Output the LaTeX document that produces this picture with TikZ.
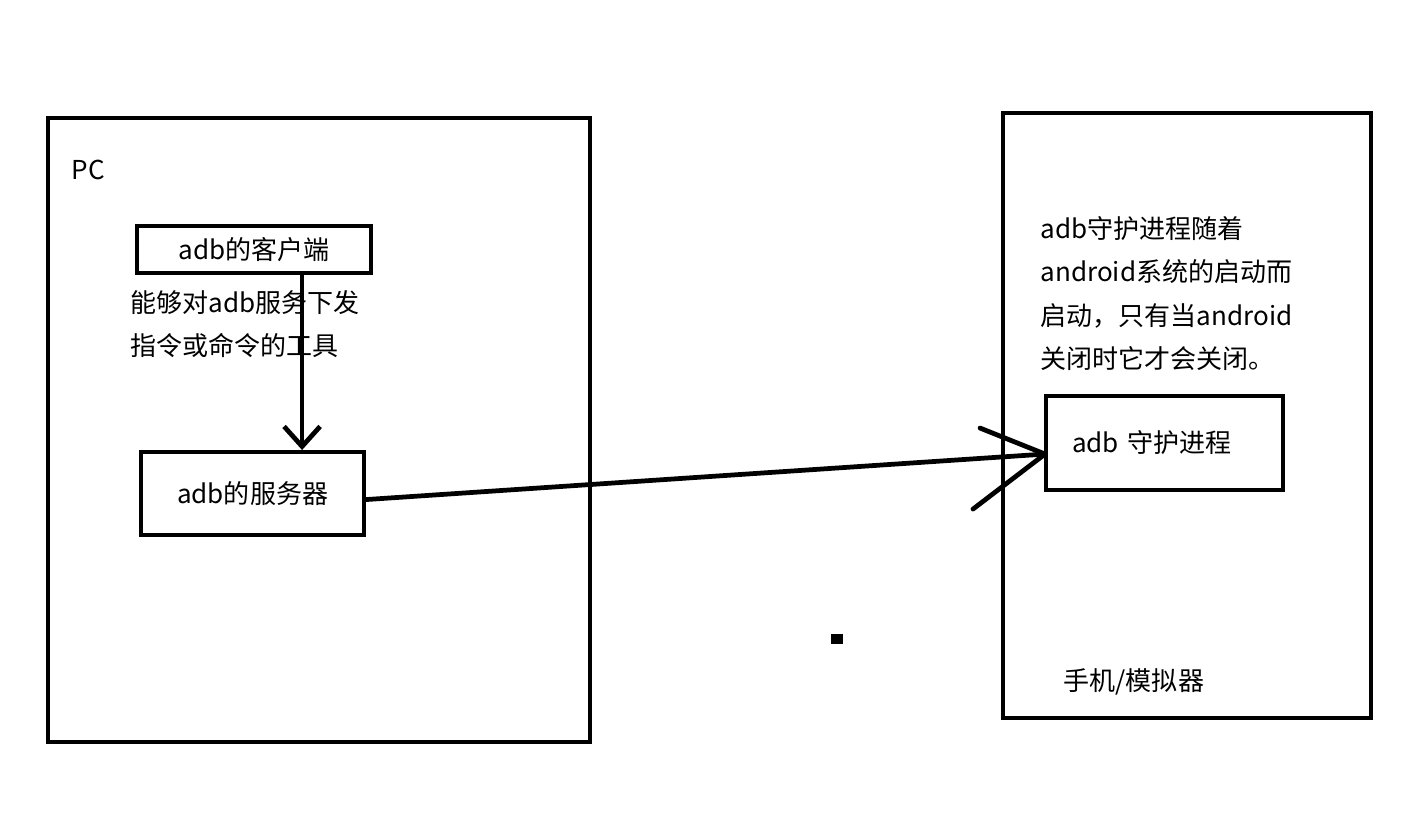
\documentclass[tikz,border=0pt]{standalone}
\usepackage{fontspec}
\setmainfont{Noto Sans CJK SC}
\usetikzlibrary{arrows.meta, positioning, calc}

\begin{document}
\begin{tikzpicture}[x=0.01cm, y=-0.01cm,
  box/.style={draw, line width=1.15pt, inner sep=0, font=\fontsize{7.4}{12.2}\selectfont},
  lbl/.style={font=\fontsize{7.4}{12.3}\selectfont, inner sep=0, align=left},
  link/.style={line width=1.35pt, line cap=round, line join=round}]
  \useasboundingbox (0,0) rectangle (1407,812);
  % the two machines
  \node[box, anchor=north west, minimum width=5.42cm, minimum height=6.24cm] (pc) at (46,116) {};
  \node[box, anchor=north west, minimum width=3.68cm, minimum height=6.05cm] (phone) at (1001,111) {};
  \node[lbl, anchor=west] (pclabel) at ($(pc.north west)+(25,54)$) {PC};
  \node[lbl, anchor=west] (phonelabel) at ($(phone.south west)+(62,-39)$) {手机/模拟器};
  % pc side
  \node[box, anchor=north west, minimum width=2.34cm, minimum height=0.47cm] (client) at (135,224) {adb的客户端};
  \node[lbl, anchor=north west] (clientnote) at ($(client.south west)+(-5,15)$)
    {能够对adb服务下发\\指令或命令的工具};
  \node[box, anchor=north west, minimum width=2.23cm, minimum height=0.83cm] (server) at (139,450) {adb的服务器};
  % phone side
  \node[lbl, anchor=north west] (daemonnote) at ($(phone.north west)+(39,105)$)
    {adb守护进程随着\\android系统的启动而\\启动，只有当android\\关闭时它才会关闭。};
  \node[box, anchor=north west, minimum width=2.37cm, minimum height=0.94cm,
    text width=1.85cm, inner xsep=0.26cm, align=left] (daemon) at (1044,394) {adb 守护进程};
  % links
  \draw[link, -{Straight Barb[length=0.2cm, width=0.36cm]}] (client.south) ++(48,0) coordinate (c1) -- (c1 |- server.north);
  \coordinate (tip) at ($(daemon.west)+(1,11)$);
  \draw[link] ($(server.east)+(0,6)$) -- (tip);
  \draw[link] ($(tip)+(-65,-26)$) -- (tip) -- ($(tip)+(-72,55)$);
  % stray mark
  \fill (831,634) rectangle (843,644);
\end{tikzpicture}
\end{document}
